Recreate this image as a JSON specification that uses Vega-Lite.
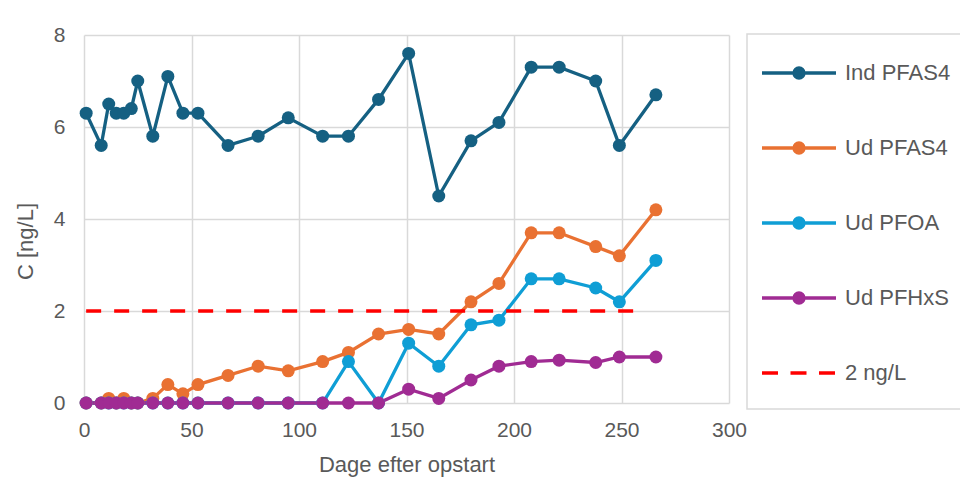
{
  "$schema": "https://vega.github.io/schema/vega-lite/v6.json",
  "width": 645,
  "height": 368,
  "autosize": {"type": "none"},
  "padding": {"left": 84, "top": 35, "right": 231, "bottom": 83},
  "background": "white",
  "config": {
    "view": {"stroke": null},
    "font": "Liberation Sans",
    "axis": {
      "grid": true,
      "gridColor": "#d9d9d9",
      "gridWidth": 1.5,
      "domain": false,
      "ticks": false,
      "labelFontSize": 21,
      "labelColor": "#595959",
      "titleFontSize": 22,
      "titleColor": "#595959",
      "titleFontWeight": "normal",
      "labelFlush": false
    }
  },
  "datasets": {
    "main": [
      {"day": 1, "series": "Ind PFAS4", "value": 6.3},
      {"day": 8, "series": "Ind PFAS4", "value": 5.6},
      {"day": 11.5, "series": "Ind PFAS4", "value": 6.5},
      {"day": 15, "series": "Ind PFAS4", "value": 6.3},
      {"day": 18.5, "series": "Ind PFAS4", "value": 6.3},
      {"day": 22, "series": "Ind PFAS4", "value": 6.4},
      {"day": 25, "series": "Ind PFAS4", "value": 7.0},
      {"day": 32, "series": "Ind PFAS4", "value": 5.8},
      {"day": 39, "series": "Ind PFAS4", "value": 7.1},
      {"day": 46, "series": "Ind PFAS4", "value": 6.3},
      {"day": 53, "series": "Ind PFAS4", "value": 6.3},
      {"day": 67, "series": "Ind PFAS4", "value": 5.6},
      {"day": 81, "series": "Ind PFAS4", "value": 5.8},
      {"day": 95, "series": "Ind PFAS4", "value": 6.2},
      {"day": 111, "series": "Ind PFAS4", "value": 5.8},
      {"day": 123, "series": "Ind PFAS4", "value": 5.8},
      {"day": 137, "series": "Ind PFAS4", "value": 6.6},
      {"day": 151, "series": "Ind PFAS4", "value": 7.6},
      {"day": 165, "series": "Ind PFAS4", "value": 4.5},
      {"day": 180, "series": "Ind PFAS4", "value": 5.7},
      {"day": 193, "series": "Ind PFAS4", "value": 6.1},
      {"day": 208, "series": "Ind PFAS4", "value": 7.3},
      {"day": 221, "series": "Ind PFAS4", "value": 7.3},
      {"day": 238, "series": "Ind PFAS4", "value": 7.0},
      {"day": 249, "series": "Ind PFAS4", "value": 5.6},
      {"day": 266, "series": "Ind PFAS4", "value": 6.7},

      {"day": 1, "series": "Ud PFAS4", "value": 0},
      {"day": 8, "series": "Ud PFAS4", "value": 0},
      {"day": 11.5, "series": "Ud PFAS4", "value": 0.1},
      {"day": 15, "series": "Ud PFAS4", "value": 0},
      {"day": 18.5, "series": "Ud PFAS4", "value": 0.1},
      {"day": 22, "series": "Ud PFAS4", "value": 0},
      {"day": 25, "series": "Ud PFAS4", "value": 0},
      {"day": 32, "series": "Ud PFAS4", "value": 0.1},
      {"day": 39, "series": "Ud PFAS4", "value": 0.4},
      {"day": 46, "series": "Ud PFAS4", "value": 0.2},
      {"day": 53, "series": "Ud PFAS4", "value": 0.4},
      {"day": 67, "series": "Ud PFAS4", "value": 0.6},
      {"day": 81, "series": "Ud PFAS4", "value": 0.8},
      {"day": 95, "series": "Ud PFAS4", "value": 0.7},
      {"day": 111, "series": "Ud PFAS4", "value": 0.9},
      {"day": 123, "series": "Ud PFAS4", "value": 1.1},
      {"day": 137, "series": "Ud PFAS4", "value": 1.5},
      {"day": 151, "series": "Ud PFAS4", "value": 1.6},
      {"day": 165, "series": "Ud PFAS4", "value": 1.5},
      {"day": 180, "series": "Ud PFAS4", "value": 2.2},
      {"day": 193, "series": "Ud PFAS4", "value": 2.6},
      {"day": 208, "series": "Ud PFAS4", "value": 3.7},
      {"day": 221, "series": "Ud PFAS4", "value": 3.7},
      {"day": 238, "series": "Ud PFAS4", "value": 3.4},
      {"day": 249, "series": "Ud PFAS4", "value": 3.2},
      {"day": 266, "series": "Ud PFAS4", "value": 4.2},

      {"day": 1, "series": "Ud PFOA", "value": 0},
      {"day": 8, "series": "Ud PFOA", "value": 0},
      {"day": 11.5, "series": "Ud PFOA", "value": 0},
      {"day": 15, "series": "Ud PFOA", "value": 0},
      {"day": 18.5, "series": "Ud PFOA", "value": 0},
      {"day": 22, "series": "Ud PFOA", "value": 0},
      {"day": 25, "series": "Ud PFOA", "value": 0},
      {"day": 32, "series": "Ud PFOA", "value": 0},
      {"day": 39, "series": "Ud PFOA", "value": 0},
      {"day": 46, "series": "Ud PFOA", "value": 0},
      {"day": 53, "series": "Ud PFOA", "value": 0},
      {"day": 67, "series": "Ud PFOA", "value": 0},
      {"day": 81, "series": "Ud PFOA", "value": 0},
      {"day": 95, "series": "Ud PFOA", "value": 0},
      {"day": 111, "series": "Ud PFOA", "value": 0},
      {"day": 123, "series": "Ud PFOA", "value": 0.9},
      {"day": 137, "series": "Ud PFOA", "value": 0},
      {"day": 151, "series": "Ud PFOA", "value": 1.3},
      {"day": 165, "series": "Ud PFOA", "value": 0.8},
      {"day": 180, "series": "Ud PFOA", "value": 1.7},
      {"day": 193, "series": "Ud PFOA", "value": 1.8},
      {"day": 208, "series": "Ud PFOA", "value": 2.7},
      {"day": 221, "series": "Ud PFOA", "value": 2.7},
      {"day": 238, "series": "Ud PFOA", "value": 2.5},
      {"day": 249, "series": "Ud PFOA", "value": 2.2},
      {"day": 266, "series": "Ud PFOA", "value": 3.1},

      {"day": 1, "series": "Ud PFHxS", "value": 0},
      {"day": 8, "series": "Ud PFHxS", "value": 0},
      {"day": 11.5, "series": "Ud PFHxS", "value": 0},
      {"day": 15, "series": "Ud PFHxS", "value": 0},
      {"day": 18.5, "series": "Ud PFHxS", "value": 0},
      {"day": 22, "series": "Ud PFHxS", "value": 0},
      {"day": 25, "series": "Ud PFHxS", "value": 0},
      {"day": 32, "series": "Ud PFHxS", "value": 0},
      {"day": 39, "series": "Ud PFHxS", "value": 0},
      {"day": 46, "series": "Ud PFHxS", "value": 0},
      {"day": 53, "series": "Ud PFHxS", "value": 0},
      {"day": 67, "series": "Ud PFHxS", "value": 0},
      {"day": 81, "series": "Ud PFHxS", "value": 0},
      {"day": 95, "series": "Ud PFHxS", "value": 0},
      {"day": 111, "series": "Ud PFHxS", "value": 0},
      {"day": 123, "series": "Ud PFHxS", "value": 0},
      {"day": 137, "series": "Ud PFHxS", "value": 0},
      {"day": 151, "series": "Ud PFHxS", "value": 0.3},
      {"day": 165, "series": "Ud PFHxS", "value": 0.1},
      {"day": 180, "series": "Ud PFHxS", "value": 0.5},
      {"day": 193, "series": "Ud PFHxS", "value": 0.8},
      {"day": 208, "series": "Ud PFHxS", "value": 0.9},
      {"day": 221, "series": "Ud PFHxS", "value": 0.93},
      {"day": 238, "series": "Ud PFHxS", "value": 0.88},
      {"day": 249, "series": "Ud PFHxS", "value": 1.0},
      {"day": 266, "series": "Ud PFHxS", "value": 1.0},

      {"day": 1, "series": "2 ng/L", "value": 2},
      {"day": 259, "series": "2 ng/L", "value": 2}
    ]
  },
  "data": {"name": "main"},
  "encoding": {
    "x": {
      "field": "day",
      "type": "quantitative",
      "scale": {"domain": [0, 300], "nice": false, "zero": false},
      "axis": {"values": [0, 50, 100, 150, 200, 250, 300], "title": "Dage efter opstart", "labelPadding": 16, "titlePadding": 14}
    },
    "y": {
      "field": "value",
      "type": "quantitative",
      "scale": {"domain": [0, 8], "nice": false},
      "axis": {"values": [0, 2, 4, 6, 8], "title": "C [ng/L]", "labelPadding": 19, "titleX": -59, "titleY": 206, "titleAlign": "center", "titleBaseline": "middle", "titleAngle": -90}
    },
    "color": {
      "field": "series",
      "type": "nominal",
      "scale": {
        "domain": ["Ind PFAS4", "Ud PFAS4", "Ud PFOA", "Ud PFHxS", "2 ng/L"],
        "range": ["#156082", "#e97132", "#0f9ed5", "#a02b93", "#ff0000"]
      },
      "legend": {
        "orient": "none",
        "legendX": 663,
        "legendY": -1,
        "title": null,
        "padding": 0,
        "strokeColor": "#d9d9d9",
        "symbolType": "M-1,0H1",
        "symbolSize": 5476,
        "symbolStrokeWidth": 3.3,
        "symbolOffset": 13,
        "labelOffset": 7,
        "labelFontSize": 22,
        "labelColor": "#595959",
        "rowPadding": 0,
        "encode": {
          "legend": {
            "update": {"strokeWidth": {"value": 1.5}}
          },
          "symbols": {
            "update": {
              "shape": {"signal": "datum.value === '2 ng/L' ? 'M0,-0.77M0,0.77M4.8,0M-1,0H1' : 'M0,-0.77M0,0.77M4.8,0M-1,0H1M-0.135,0A0.135,0.135,0,1,0,0.135,0A0.135,0.135,0,1,0,-0.135,0Z'"},
              "fill": {"signal": "datum.value === '2 ng/L' ? 'transparent' : scale('color', datum.value)"},
              "stroke": {"signal": "scale('color', datum.value)"},
              "strokeDash": {"signal": "datum.value === '2 ng/L' ? [16, 12.5] : [100, 0]"},
              "strokeWidth": {"value": 3.3},
              "opacity": {"value": 1}
            }
          }
        }
      }
    }
  },
  "layer": [
    {
      "transform": [{"filter": "datum.series !== '2 ng/L'"}],
      "mark": {"type": "line", "strokeWidth": 3.3, "point": {"filled": true, "size": 169, "opacity": 1}}
    },
    {
      "transform": [{"filter": "datum.series === '2 ng/L'"}],
      "mark": {"type": "line", "strokeWidth": 3.3, "strokeDash": [15, 13]}
    }
  ]
}
